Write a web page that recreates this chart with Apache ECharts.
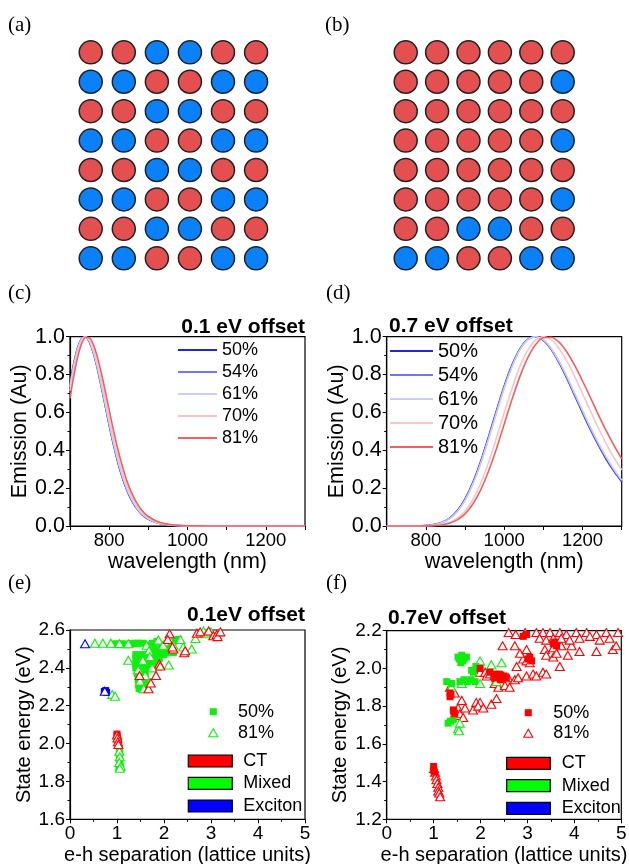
<!DOCTYPE html>
<html>
<head>
<meta charset="utf-8">
<script src="https://cdn.jsdelivr.net/npm/echarts@6/dist/echarts.min.js"></script>
<style>
html,body{margin:0;padding:0;background:#fff;}
#chart{width:629px;height:864px;}
</style>
</head>
<body>
<div id="chart"></div>
<script>
// ---------- DATA ----------
// lattice patterns (1 = red site, 0 = blue site), rows top to bottom
const latticeA = [
  [1,1,0,0,1,1],
  [0,0,1,1,0,0],
  [1,1,0,0,1,1],
  [0,0,1,1,0,0],
  [1,1,0,0,1,1],
  [0,0,1,1,0,0],
  [1,1,0,0,1,1],
  [0,0,1,1,0,0]
];
const latticeB = [
  [1,1,1,1,1,1],
  [1,1,1,1,1,0],
  [1,1,1,1,1,1],
  [1,1,1,1,1,0],
  [1,1,1,1,1,1],
  [1,1,1,1,1,0],
  [1,1,0,0,1,1],
  [0,0,1,1,0,0]
];

const seriesNames = ['50%','54%','61%','70%','81%'];

// (c) 0.1 eV offset emission spectra
const wlC = [700,710,720,730,740,750,760,770,780,790,800,810,820,830,840,850,860,870,880,890,900,920,940,960,980,1000,1050,1100,1200,1300];
const c50 = [0.753,0.863,0.945,0.991,0.998,0.970,0.911,0.830,0.734,0.633,0.532,0.438,0.353,0.279,0.217,0.166,0.125,0.093,0.068,0.050,0.036,0.018,0.0087,0.004,0.0018,0.0008,0.0001,0,0,0];
const c54 = [0.745,0.858,0.942,0.990,0.998,0.972,0.914,0.834,0.739,0.638,0.537,0.443,0.358,0.283,0.221,0.169,0.128,0.095,0.070,0.051,0.037,0.019,0.009,0.0042,0.0019,0.0008,0.0001,0,0,0];
const c61 = [0.735,0.851,0.938,0.988,0.999,0.975,0.918,0.839,0.745,0.645,0.544,0.450,0.364,0.289,0.226,0.173,0.131,0.098,0.072,0.053,0.038,0.019,0.0093,0.0044,0.002,0.0009,0.0001,0,0,0];
const c70 = [0.714,0.830,0.920,0.978,0.998,0.982,0.934,0.861,0.771,0.673,0.573,0.477,0.389,0.311,0.245,0.189,0.144,0.108,0.080,0.059,0.043,0.022,0.011,0.005,0.0024,0.001,0.0001,0,0,0];
const c81 = [0.674,0.796,0.895,0.964,0.997,0.994,0.957,0.892,0.808,0.713,0.613,0.516,0.424,0.343,0.272,0.212,0.163,0.123,0.092,0.068,0.050,0.026,0.013,0.0064,0.003,0.0015,0.0002,0,0,0];

// (d) 0.7 eV offset emission spectra
const wlD = [700,740,780,800,820,840,860,880,900,920,940,960,980,1000,1020,1040,1060,1080,1100,1120,1140,1160,1180,1200,1220,1240,1260,1280,1300];
const d50 = [0,0,0.0007,0.0025,0.0073,0.0184,0.0408,0.0804,0.143,0.231,0.342,0.472,0.608,0.739,0.851,0.936,0.986,1.000,0.980,0.932,0.863,0.780,0.689,0.598,0.510,0.428,0.354,0.290,0.234];
const d54 = [0,0,0.0006,0.0023,0.0068,0.0175,0.0392,0.0778,0.139,0.226,0.336,0.465,0.601,0.733,0.846,0.933,0.985,1.000,0.982,0.935,0.867,0.785,0.695,0.604,0.516,0.434,0.360,0.295,0.239];
const d61 = [0,0,0.0006,0.0022,0.0064,0.0166,0.0376,0.0752,0.135,0.221,0.330,0.458,0.594,0.727,0.841,0.930,0.983,1.000,0.984,0.938,0.871,0.790,0.700,0.610,0.522,0.440,0.366,0.300,0.243];
const d70 = [0,0,0.0002,0.0007,0.0025,0.0073,0.018,0.040,0.079,0.140,0.226,0.335,0.463,0.598,0.728,0.843,0.929,0.982,1.0,0.984,0.938,0.872,0.789,0.700,0.608,0.519,0.436,0.362,0.296];
const d81 = [0,0,0.0001,0.0005,0.0019,0.0056,0.0143,0.0321,0.0642,0.116,0.191,0.289,0.407,0.538,0.669,0.789,0.888,0.958,0.994,0.997,0.971,0.919,0.848,0.766,0.679,0.590,0.505,0.427,0.355];

// (e) 0.1eV offset: [e-h separation, state energy]
const e50_CT = [[1.0,2.05],[1.0,2.04],[1.01,2.03],[1.02,2.02],[1.02,2.01],[1.03,2.0]];
const e50_Mixed = [
  [0.9,2.525],[0.95,2.525],[1.0,2.527],[1.05,2.525],[1.1,2.527],[1.15,2.525],[1.2,2.522],[1.25,2.525],[1.3,2.527],[1.35,2.527],[1.4,2.53],[1.45,2.53],
  [1.55,2.53],[1.65,2.52],[1.75,2.53],[1.85,2.54],[1.9,2.5],[1.95,2.52],[2.0,2.5],[2.05,2.48],[2.1,2.5],[2.15,2.52],[2.2,2.54],[2.3,2.55],[2.2,2.48],[1.8,2.5],
  [1.4,2.47],[1.5,2.47],[1.6,2.47],[1.7,2.48],[1.8,2.47],[1.9,2.48],[2.0,2.47],
  [1.4,2.45],[1.5,2.45],[1.6,2.45],[1.7,2.44],[1.8,2.45],[1.9,2.45],
  [1.4,2.42],[1.5,2.42],[1.6,2.42],[1.7,2.42],[1.8,2.42],
  [1.4,2.40],[1.5,2.40],[1.6,2.39],[1.7,2.40],
  [1.43,2.37],[1.5,2.37],[1.6,2.36],
  [1.45,2.34],[1.52,2.33],[1.6,2.34],
  [1.46,2.31],[1.52,2.30],[1.58,2.31],
  [1.47,2.29],[1.53,2.285],
  [1.05,1.97],[1.06,1.95],[1.05,1.93],[1.06,1.91],[1.05,1.89],[1.07,1.88],[1.04,1.87]
];
const e50_Exc = [[0.73,2.275],[0.76,2.28],[0.78,2.27]];
const e81_CT = [[1.0,2.045],[1.01,2.03],[1.02,2.01],[1.03,1.995],[1.48,2.36],[1.67,2.29],[1.72,2.32],[1.83,2.36],[1.9,2.42],[1.92,2.41],[2.12,2.58],[2.2,2.5],[2.18,2.51],[2.43,2.48],[2.45,2.49],[2.7,2.583],[2.77,2.59],[2.95,2.595],[3.05,2.57],[3.12,2.575],[3.14,2.565],[3.2,2.59],[2.08,2.55]];
const e81_Mixed = [[0.53,2.53],[0.7,2.53],[0.87,2.53],[1.05,2.528],[1.24,2.527],[1.24,2.44],[1.45,2.39],[1.49,2.33],[1.57,2.29],[1.6,2.36],[1.63,2.52],[1.68,2.49],[1.85,2.41],[1.88,2.547],[1.98,2.52],[2.1,2.56],[2.1,2.415],[2.2,2.52],[2.35,2.55],[2.41,2.51],[2.59,2.50],[2.67,2.555],[2.84,2.595],[2.9,2.58],[3.0,2.59],[0.9,2.26],[0.96,2.25],[1.05,1.96],[1.06,1.93],[1.05,1.9],[1.08,1.88],[1.06,1.87],[1.55,2.44],[1.7,2.46],[1.75,2.4]];
const e81_Exc = [[0.32,2.527],[0.74,2.277]];

// (f) 0.7eV offset
const f50_CT = [[1.0,1.48],[1.0,1.46],[1.02,1.45],[1.35,1.87],[1.35,1.85],[1.37,1.86],[1.42,1.78],[1.45,1.76],[1.43,1.77],[1.99,2.0],[2.2,1.98],[2.28,1.97],[2.35,1.96],[2.4,1.97],[2.45,1.95],[2.5,1.96],[2.55,1.95],[2.42,1.94],[2.3,1.95],[3.01,2.05],[3.09,2.04],[3.05,2.06],[3.55,2.13],[3.62,2.12],[3.58,2.14],[2.91,2.17],[2.98,2.18]];
const f50_Mixed = [[1.52,2.06],[1.55,2.05],[1.6,2.07],[1.65,2.05],[1.58,2.03],[1.7,2.06],[1.62,2.04],[1.81,1.99],[1.9,2.01],[1.85,1.98],[1.28,1.93],[1.38,1.92],[1.56,1.93],[1.65,1.94],[1.72,1.93],[1.8,1.94],[1.88,1.93],[1.31,1.71],[1.36,1.72],[1.42,1.73]];
const f50_Exc = [];
const f81_CT = [
  [1.01,1.47],[1.03,1.45],[1.05,1.43],[1.06,1.41],[1.08,1.39],[1.1,1.37],[1.1,1.35],[1.12,1.34],[1.14,1.32],
  [1.35,1.90],[1.45,1.87],[1.6,1.83],[1.49,1.75],[1.52,1.79],[1.56,1.76],[1.63,1.74],[1.67,1.79],[1.84,1.78],[1.91,1.82],[1.99,1.82],[1.95,1.80],[2.06,1.79],[2.23,1.81],[2.34,1.84],
  [1.99,1.98],[2.1,1.98],[2.13,1.96],[2.2,1.97],[2.34,1.95],[2.3,1.92],[2.38,1.90],[2.48,1.96],[2.52,1.91],[2.59,1.95],[2.62,1.90],[2.73,1.94],[2.8,1.95],[2.98,1.96],[3.12,1.97],[3.19,1.96],[3.33,1.98],[3.4,1.97],
  [2.77,2.01],[2.91,2.05],[2.98,2.04],[3.05,2.03],[3.69,2.01],
  [2.47,2.12],[2.73,2.12],[2.84,2.08],[2.98,2.10],[3.37,2.10],[3.55,2.11],[3.72,2.12],[3.94,2.12],[4.11,2.09],[4.47,2.09],[4.82,2.10],[4.89,2.12],
  [3.4,2.07],[3.55,2.06],[3.62,2.08],[3.86,2.07],
  [3.19,2.19],[3.33,2.19],[3.48,2.19],[3.69,2.19],[3.83,2.18],[4.04,2.19],[4.26,2.19],[4.47,2.18],[4.68,2.19],[4.93,2.19],
  [3.26,2.16],[3.4,2.15],[3.55,2.16],[3.72,2.16],[3.9,2.15],[4.11,2.16],[4.33,2.17],[4.54,2.15],[4.75,2.16],
  [2.6,2.19],[2.75,2.18],[2.95,2.19]
];
const f81_Mixed = [[1.99,2.04],[2.23,2.02],[2.45,2.03],[1.99,1.92],[2.34,1.93],[1.6,1.92],[1.38,1.90],[1.52,1.68],[1.56,1.71],[1.54,1.67]];
const f81_Exc = [];

// ---------- STYLE ----------
const FONT = "'Liberation Sans', Arial, sans-serif";
const SERIF = "'Liberation Serif', 'Times New Roman', serif";
const SITE_RED = '#e45050';
const SITE_BLUE = '#0a80fa';
const lineColors = ['#2323e0','#6f78f0','#c9cdf8','#f8c6c6','#f25f5f'];
const CT = '#ff0000', MIX = '#10ee10', EXC = '#0000ff';

const chart = echarts.init(document.getElementById('chart'), null, {renderer:'canvas'});

function latticeData(p){ const out=[]; p.forEach((row,r)=>row.forEach((v,c)=>out.push([c,r,v]))); return out; }
function pairs(xs, ys){ return xs.map((x,i)=>[x, ys[i]]); }

const grids = [
  {left:74.2, top:37.6, width:198.4, height:235.4, show:false},
  {left:390, top:37.6, width:188.4, height:235.4, show:false},
  {left:70, top:336.7, width:235, height:189.3},
  {left:386.7, top:336.7, width:235, height:189.3},
  {left:70, top:630, width:235, height:189.3},
  {left:386.7, top:630.7, width:234.6, height:188.6}
].map(g => Object.assign({show:true, borderColor:'#000', borderWidth:1.2, backgroundColor:'transparent', containLabel:false, outerBoundsMode:'none'}, g));

const axLine = {show:true, onZero:false, lineStyle:{color:'#000', width:1.2}};
const axTick = {show:true, inside:false, length:4, lineStyle:{color:'#000', width:1}};
const minor = {show:true, splitNumber:2, length:2.5, lineStyle:{color:'#000', width:1}};

function hiddenX(gi){ return {type:'value', gridIndex:gi, min:-0.5, max:5.5, show:false}; }
function hiddenY(gi){ return {type:'value', gridIndex:gi, min:-0.5, max:7.5, inverse:true, show:false}; }
function wlAxis(gi){
  return {type:'value', gridIndex:gi, min:700, max:1300, interval:100,
    axisLine:axLine, axisTick:axTick, splitLine:{show:false},
    axisLabel:{formatter:v => (v % 200 === 0 ? String(v) : ''), fontFamily:FONT, fontSize:18.5, color:'#000', margin:5, showMinLabel:true, showMaxLabel:true},
    name:'wavelength (nm)', nameLocation:'middle', nameGap:18,
    nameTextStyle:{fontFamily:FONT, fontSize:21.5, color:'#000'}};
}
function emAxis(gi){
  return {type:'value', gridIndex:gi, min:0, max:1, interval:0.2,
    axisLine:axLine, axisTick:axTick, minorTick:minor, splitLine:{show:false}, minorSplitLine:{show:false},
    axisLabel:{formatter:v => v.toFixed(1), fontFamily:FONT, fontSize:21.5, color:'#000', margin:5},
    name:'Emission (Au)', nameLocation:'middle', nameRotate:90, nameGap:38,
    nameTextStyle:{fontFamily:FONT, fontSize:21.5, color:'#000'}};
}
function sepAxis(gi){
  return {type:'value', gridIndex:gi, min:0, max:5, interval:1,
    axisLine:axLine, axisTick:axTick, minorTick:minor, splitLine:{show:false}, minorSplitLine:{show:false},
    axisLabel:{fontFamily:FONT, fontSize:19, color:'#000', margin:5, showMinLabel:true, showMaxLabel:true},
    name:'e-h separation (lattice units)', nameLocation:'middle', nameGap:26,
    nameTextStyle:{fontFamily:FONT, fontSize:20, color:'#000'}};
}
function enAxis(gi, lo, hi){
  return {type:'value', gridIndex:gi, min:lo, max:hi, interval:0.2,
    axisLine:axLine, axisTick:axTick, minorTick:minor, splitLine:{show:false}, minorSplitLine:{show:false},
    axisLabel:{formatter:v => v.toFixed(1), fontFamily:FONT, fontSize:19, color:'#000', margin:5},
    name:'State energy (eV)', nameLocation:'middle', nameRotate:90, nameGap:36,
    nameTextStyle:{fontFamily:FONT, fontSize:20, color:'#000'}};
}

const series = [];
[latticeA, latticeB].forEach((p, i) => {
  series.push({type:'scatter', xAxisIndex:i, yAxisIndex:i, data:latticeData(p), symbol:'circle', symbolSize:23,
    itemStyle:{color: prm => (prm.value[2] === 1 ? SITE_RED : SITE_BLUE), borderColor:'#222', borderWidth:1.5, opacity:1},
    silent:true});
});
const cSets = [c50,c54,c61,c70,c81];
const dSets = [d50,d54,d61,d70,d81];
cSets.forEach((vals, i) => series.push({type:'line', name:seriesNames[i], xAxisIndex:2, yAxisIndex:2, data:pairs(wlC, vals),
  symbol:'none', smooth:0.3, lineStyle:{color:lineColors[i], width:1.6}, itemStyle:{color:lineColors[i]}}));
dSets.forEach((vals, i) => series.push({type:'line', name:seriesNames[i], xAxisIndex:3, yAxisIndex:3, data:pairs(wlD, vals),
  symbol:'none', smooth:0.3, lineStyle:{color:lineColors[i], width:1.6}, itemStyle:{color:lineColors[i]}}));

function sq(gi, data, color){ return {type:'scatter', xAxisIndex:gi, yAxisIndex:gi, data, symbol:'rect', symbolSize:7, itemStyle:{color, opacity:1}, silent:true}; }
function tri(gi, data, color){ return {type:'scatter', xAxisIndex:gi, yAxisIndex:gi, data, symbol:'triangle', symbolSize:[9,8], itemStyle:{color:'#fff', borderColor:color, borderWidth:1.1, opacity:1}, silent:true}; }
series.push(sq(4, e50_Mixed, MIX), sq(4, e50_CT, CT), sq(4, e50_Exc, EXC));
series.push(tri(4, e81_Mixed, MIX), tri(4, e81_CT, CT), tri(4, e81_Exc, EXC));
series.push(tri(5, f81_CT, CT), tri(5, f81_Mixed, MIX), tri(5, f81_Exc, EXC));
series.push(sq(5, f50_Mixed, MIX), sq(5, f50_CT, CT), sq(5, f50_Exc, EXC));

function txt(x, y, text, font, align){
  return {type:'text', x, y, silent:true, style:{text, font, fill:'#000', align: align || 'left', verticalAlign:'middle'}};
}
function patch(x, y, w, color){ return {type:'rect', silent:true, shape:{x, y:y-6, width:w, height:12}, style:{fill:color, stroke:'#000', lineWidth:1.2}}; }
function triIcon(cx, cy, color){ return {type:'polygon', silent:true, shape:{points:[[cx,cy-4],[cx+4.5,cy+4],[cx-4.5,cy+4]]}, style:{fill:'#fff', stroke:color, lineWidth:1.1}}; }
function sqIcon(cx, cy, color){ return {type:'rect', silent:true, shape:{x:cx-3.5, y:cy-3.5, width:7, height:7}, style:{fill:color}}; }

const LBL = '21px ' + SERIF;
const TTL = 'bold 21px ' + FONT;
const LEG = '18px ' + FONT;
const graphic = [
  txt(8, 25, '(a)', LBL), txt(325, 25, '(b)', LBL),
  txt(8, 293, '(c)', LBL), txt(326, 293, '(d)', LBL),
  txt(8, 583, '(e)', LBL), txt(326, 583, '(f)', LBL),
  txt(305, 327, '0.1 eV offset', TTL, 'right'),
  txt(389, 326, '0.7 eV offset', TTL, 'left'),
  txt(305, 615, '0.1eV offset', TTL, 'right'),
  txt(388, 618, '0.7eV offset', TTL, 'left'),
  // (e) legend
  sqIcon(213.3, 711.7, MIX), txt(238, 711.7, '50%', LEG),
  triIcon(213.3, 732.7, MIX), txt(238, 732.7, '81%', LEG),
  patch(188.3, 761, 44, CT), txt(243.3, 761, 'CT', LEG),
  patch(188.3, 783.3, 44, '#00ff00'), txt(243.3, 783.3, 'Mixed', LEG),
  patch(188.3, 806, 44, EXC), txt(243.3, 806, 'Exciton', LEG),
  // (f) legend
  sqIcon(528.3, 712.7, CT), txt(553.3, 712.7, '50%', LEG),
  triIcon(528.3, 733.3, CT), txt(553.3, 733.3, '81%', LEG),
  patch(506.7, 763.3, 43.6, CT), txt(561.7, 763.3, 'CT', LEG),
  patch(506.7, 785.7, 43.6, '#00ff00'), txt(561.7, 785.7, 'Mixed', LEG),
  patch(506.7, 808.3, 43.6, EXC), txt(561.7, 808.3, 'Exciton', LEG)
];

const option = {
  animation:false,
  backgroundColor:'#fff',
  grid: grids,
  xAxis:[hiddenX(0), hiddenX(1), wlAxis(2), wlAxis(3), sepAxis(4), sepAxis(5)],
  yAxis:[hiddenY(0), hiddenY(1), emAxis(2), emAxis(3), enAxis(4, 1.6, 2.6), enAxis(5, 1.2, 2.2)],
  legend:[
    {data:seriesNames, orient:'vertical', left:178, top:341, padding:0, icon:'rect', itemWidth:39, itemHeight:2, itemGap:4, selectedMode:false,
     textStyle:{fontFamily:FONT, fontSize:18, lineHeight:18, color:'#000'}},
    {data:seriesNames, orient:'vertical', left:390, top:341, padding:0, icon:'rect', itemWidth:43, itemHeight:2, itemGap:4, selectedMode:false,
     textStyle:{fontFamily:FONT, fontSize:20, lineHeight:20, color:'#000'}}
  ],
  graphic: graphic,
  series: series
};
chart.setOption(option);
</script>
</body>
</html>
